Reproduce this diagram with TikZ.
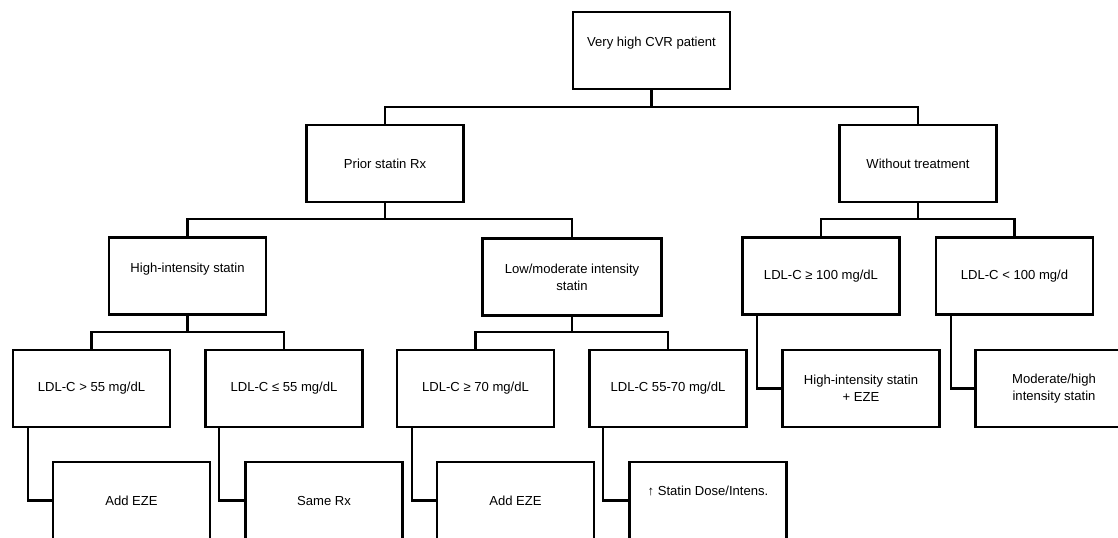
\documentclass[tikz,border=0pt]{standalone}
\usepackage{fontspec}
\setmainfont{Liberation Sans}
\usepackage{tikz}
\usetikzlibrary{calc}
\tikzset{
  box/.style={draw, line width=1.6pt, minimum width=3.925cm, minimum height=1.925cm,
    inner sep=2pt, align=center, font=\fontsize{9.3}{12}\selectfont},
  widebox/.style={box, minimum width=4.475cm},
  link/.style={line width=1.6pt}
}

\begin{document}
\begin{tikzpicture}[x=0.025cm, y=-0.025cm]
\useasboundingbox (0,0) rectangle (1118,538);
\clip (0,0) rectangle (1118,538);

% level 0 and 1
\node[box, text depth=12.6pt] (top) at (651.5,50.5) {Very high CVR patient};
\node[box] (prior) at (385,163.5) {Prior statin Rx};
\node[box] (without) at (918,163.5) {Without treatment};

% level 2
\node[box, text depth=12pt] (hi) at (187.5,276) {High-intensity statin};
\node[widebox] (lowmod) at (572,277) {Low/moderate intensity\\statin};
\node[box] (ge100) at (821,276) {LDL-C ≥ 100 mg/dL};
\node[box] (lt100) at (1014.5,276) {LDL-C < 100 mg/d};

% level 3
\node[box] (gt55) at (91.5,388.5) {LDL-C > 55 mg/dL};
\node[box] (le55) at (284,388.5) {LDL-C ≤ 55 mg/dL};
\node[box] (ge70) at (475.5,388.5) {LDL-C ≥ 70 mg/dL};
\node[box] (mid) at (668,388.5) {LDL-C 55-70 mg/dL};
\node[box] (hieze) at (861,388.5) {High-intensity statin\\+ EZE};
\node[box] (modhi) at (1054,388.5) {Moderate/high\\intensity statin};

% level 4
\node[box] (eze1) at (131.5,500.5) {Add EZE};
\node[box] (same) at (324,500.5) {Same Rx};
\node[box] (eze2) at (515.5,500.5) {Add EZE};
\node[box, text depth=14pt] (dose) at (708,500.5) {↑ Statin Dose/Intens.};

% tree connectors
\draw[link] (top.south) -- ++(0,17);
\draw[link] (prior.north) -- ++(0,-17) -| (without.north);
\draw[link] (prior.south) -- ++(0,16);
\draw[link] (hi.north) -- ++(0,-17) -| (lowmod.north);
\draw[link] (without.south) -- ++(0,16);
\draw[link] (ge100.north) -- ++(0,-17) -| (lt100.north);
\draw[link] (hi.south) -- ++(0,16);
\draw[link] (gt55.north) -- ++(0,-17) -| (le55.north);
\draw[link] (lowmod.south) -- ++(0,15);
\draw[link] (ge70.north) -- ++(0,-17) -| (mid.north);

% elbow connectors
\draw[link] ($(gt55.south west)+(16,0)$) |- (eze1.west);
\draw[link] ($(le55.south west)+(15,0)$) |- (same.west);
\draw[link] ($(ge70.south west)+(16,0)$) |- (eze2.west);
\draw[link] ($(mid.south west)+(15,0)$) |- (dose.west);
\draw[link] ($(ge100.south west)+(16,0)$) |- (hieze.west);
\draw[link] ($(lt100.south west)+(16,0)$) |- (modhi.west);
\end{tikzpicture}
\end{document}
